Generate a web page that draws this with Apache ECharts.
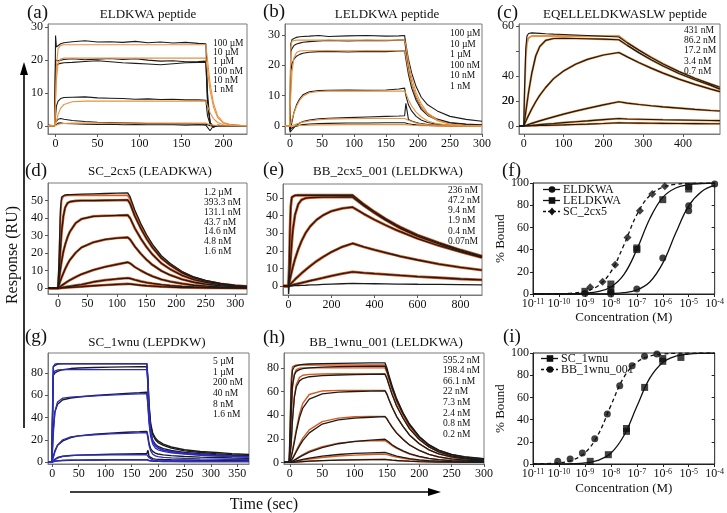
<!DOCTYPE html>
<html><head><meta charset="utf-8">
<script src="https://cdn.jsdelivr.net/npm/echarts@6/dist/echarts.min.js"></script>
<style>html,body{margin:0;padding:0;background:#fff}#c{width:727px;height:513px}</style>
</head><body><div id="c"></div>
<script>
// ---------- (a) ELDKWA peptide ----------
const tA = [-9, -1, 0, 1, 3, 6, 10, 20, 35, 50, 65, 80, 95, 110, 125, 140, 155, 170, 179, 181, 184, 188, 193, 200, 210, 228];
const a100uM = [0.2, 0, 27.5, 24, 24.5, 25, 25.3, 25.6, 25.9, 25.5, 25.6, 25.4, 25.7, 25.3, 25.5, 25.2, 25.4, 25.1, 25, 10, 1, -0.5, 0.2, 0, 0.2, 0];
const a10uM = [0.1, 0, 20, 19.5, 19.8, 20, 20.2, 20.4, 20.1, 20.3, 20.5, 20.2, 20.4, 20, 19.7, 19.8, 19.5, 19.6, 19.7, 8, 1, -0.3, 0.1, 0, 0.1, 0];
const a1uM = [0, 0.1, 18, 18.5, 18.8, 19, 19.2, 19.3, 19.6, 19.8, 19.5, 19.2, 19, 18.8, 18.6, 18.9, 19.2, 19.3, 19.4, 7, 0.8, -0.2, 0.1, 0, 0, 0.1];
const a100nM = [0, 0, 3, 6, 7.5, 8.3, 8.6, 8.7, 8.8, 8.5, 8.4, 8.3, 8.1, 8.2, 8, 8.1, 7.9, 7.9, 7.8, 3, 0.5, -0.2, 0, 0, 0.1, 0];
const a10nM = [0, 0, 1, 1.5, 2, 2.2, 2.0, 1.6, 1.3, 1.1, 1.0, 0.9, 0.8, 0.7, 0.7, 0.6, 0.6, 0.5, 0.5, 0.2, 0, -0.1, 0, 0, 0, 0];
const a1nM = [0, 0, 0.3, 0.6, 0.8, 0.9, 0.7, 0.6, 0.5, 0.4, 0.5, 0.3, 0.4, 0.3, 0.3, 0.3, 0.2, 0.3, 0.2, 0, -1.5, 0, 0, 0, 0, 0];
const aFit100uM = [0, 0, 0, 18, 23.5, 24.5, 24.7, 24.7, 24.7, 24.7, 24.7, 24.7, 24.7, 24.7, 24.7, 24.7, 24.7, 24.7, 24.7, 20, 13, 7, 3, 1, 0.2, 0];
const aFit10uM = [0, 0, 0, 14, 19, 20.3, 20.6, 20.6, 20.6, 20.6, 20.6, 20.6, 20.6, 20.6, 20.6, 20.6, 20.6, 20.6, 20.6, 16.7, 10.8, 5.8, 2.5, 0.8, 0.2, 0];
const aFit100nM = [0, 0, 0, 1.5, 3.5, 5.3, 6.5, 7.3, 7.5, 7.5, 7.5, 7.5, 7.5, 7.5, 7.5, 7.5, 7.5, 7.5, 7.5, 6, 4, 2.2, 1, 0.3, 0.1, 0];
const aFit10nM = [0, 0, 0, 0.2, 0.4, 0.6, 0.7, 0.8, 0.8, 0.8, 0.8, 0.8, 0.8, 0.8, 0.8, 0.8, 0.8, 0.8, 0.8, 0.65, 0.4, 0.2, 0.1, 0, 0, 0];
const aLabels = ['100 µM', '10 µM', '1 µM', '100 nM', '10 nM', '1 nM'];
const aXTicks = [0, 50, 100, 150, 200];
const aYTicks = [0, 10, 20, 30];

// ---------- (b) LELDKWA peptide ----------
const tB = [-8, -1, 0, 1, 3, 6, 10, 15, 20, 30, 45, 60, 90, 120, 150, 170, 179, 181, 185, 190, 197, 205, 215, 230, 250, 275, 300];
const b100uM = [0, 0, 5, 27, 28.5, 29, 29.2, 29.4, 29.5, 29.6, 29.8, 29.5, 29.7, 29.8, 29.6, 29.7, 29.8, 27, 22, 17.5, 13, 9.5, 7, 5, 3.2, 2.2, 1.6];
const b10uM = [0, 0, 3, 24.5, 25.5, 26.5, 27, 27.3, 27.6, 27.8, 28, 28.2, 28, 28.2, 28.1, 28.3, 28.3, 25, 19, 14, 9.5, 6.2, 4, 2.3, 1.2, 0.7, 0.4];
const b1uM = [0, 0, 1, 18, 20.5, 22, 23, 23.6, 24, 24.3, 24.5, 24.6, 24.4, 24.6, 24.5, 24.7, 24.8, 22, 17, 12.5, 8.5, 5.5, 3.5, 2, 1, 0.5, 0.3];
const b100nM = [0, 0, -1.5, -1, 1.5, 4.5, 7, 9, 10.3, 11.3, 11.7, 11.8, 11.9, 11.8, 11.9, 12.2, 12.5, 10, 7, 5, 3.2, 2, 1.2, 0.6, 0.3, 0.1, 0];
const b10nM = [0, 0, -2, -1.8, -1.2, -0.5, 0.3, 1.0, 1.5, 2.0, 2.4, 2.6, 2.8, 3.0, 3.2, 3.3, 3.4, 7.5, 2.2, 1.7, 1.2, 0.8, 0.5, 0.3, 0.1, 0, 0];
const b1nM = [0, 0, -1, -0.8, -0.5, -0.2, 0, 0.3, 0.5, 0.7, 0.8, 0.9, 1.0, 1.0, 1.1, 1.1, 1.1, 1.0, 0.8, 0.6, 0.4, 0.3, 0.2, 0.1, 0, 0, 0];
const bFit100uM = [0, 0, 0, 26, 28, 28.3, 28.3, 28.3, 28.3, 28.3, 28.3, 28.3, 28.3, 28.3, 28.3, 28.3, 28.3, 26.5, 21, 16, 11, 7.3, 4.3, 2, 0.7, 0.2, 0.1];
const bFit1uM = [0, 0, 0, 10, 18, 22.5, 24.2, 24.7, 24.8, 24.8, 24.8, 24.8, 24.8, 24.8, 24.8, 24.8, 24.8, 23.2, 18.4, 14, 9.7, 6.4, 3.8, 1.8, 0.6, 0.2, 0.1];
const bFit100nM = [0, 0, 0, 0.8, 2.3, 4.3, 6.5, 8.5, 9.8, 11, 11.4, 11.5, 11.5, 11.5, 11.5, 11.5, 11.5, 10.8, 8.7, 6.6, 4.6, 3, 1.7, 0.8, 0.3, 0.1, 0];
const bFit10nM = [0, 0, 0, 0.1, 0.2, 0.4, 0.7, 1.0, 1.3, 1.7, 2.1, 2.3, 2.4, 2.5, 2.5, 2.5, 2.5, 2.3, 1.9, 1.5, 1.0, 0.7, 0.4, 0.2, 0.1, 0, 0];
const bFit1nM = [0, 0, 0, 0, 0, 0.1, 0.1, 0.2, 0.2, 0.3, 0.4, 0.4, 0.5, 0.5, 0.5, 0.5, 0.5, 0.5, 0.4, 0.3, 0.2, 0.1, 0.1, 0, 0, 0, 0];
const bLabels = ['100 µM', '10 µM', '1 µM', '100 nM', '10 nM', '1 nM'];
const bXTicks = [0, 50, 100, 150, 200, 250, 300];
const bYTicks = [0, 10, 20, 30];

// ---------- (c) EQELLELDKWASLW peptide ----------
const tC = [-12, 0, 2, 5, 8, 12, 20, 30, 40, 55, 75, 100, 130, 160, 200, 239, 241, 260, 290, 320, 350, 390, 430, 470, 493];
const c431 = [0, 0, 30, 62, 72, 74, 74.5, 74.3, 74.1, 73.8, 73.5, 73.2, 72.8, 72.4, 71.8, 71.2, 70.8, 66.5, 60.5, 54.8, 49.6, 43.5, 38.2, 33.5, 31];
const c431Fit = [0, 0, 25, 55, 66, 70.5, 72, 72, 72, 72, 72, 72, 72, 72, 72, 72, 71.5, 67, 60.8, 55.2, 50, 43.8, 38.4, 33.7, 31.2];
const c86 = [0, 0, 4, 11, 18, 27, 42, 56, 63.5, 68.5, 70, 70.2, 70, 69.8, 69.5, 69, 68.5, 64.5, 58.5, 53, 48, 42, 37, 32.5, 29.5];
const c17 = [0, 0, 1.5, 3.7, 5.8, 8.5, 13.6, 19.4, 24.5, 30.8, 37.9, 44, 49.4, 53.3, 56.8, 58.8, 58.5, 55.3, 50.6, 46.3, 42.3, 37.5, 33.3, 29.5, 27.5];
const c3p4 = [0, 0, 0.2, 0.5, 0.8, 1.3, 2.1, 3.1, 4.1, 5.5, 7.3, 9.5, 11.9, 14.1, 16.9, 19.4, 19, 18.3, 17.2, 16.2, 15.3, 14.3, 13.3, 12.4, 12];
const c0p7 = [0, 0, 0, 0.1, 0.2, 0.3, 0.5, 0.8, 1.1, 1.5, 2, 2.7, 3.4, 4.1, 5.1, 6, 5.8, 5.6, 5.4, 5.2, 5, 4.8, 4.6, 4.4, 4.3];
const cLow = [0, 0, 0, 0, 0.1, 0.1, 0.2, 0.3, 0.4, 0.5, 0.7, 0.9, 1.2, 1.5, 2, 2.6, 2.5, 2.4, 2.3, 2.2, 2.1, 2, 1.9, 1.8, 1.8];
const cLabels = ['431 nM', '86.2 nM', '17.2 nM', '3.4 nM', '0.7 nM'];
const cXTicks = [0, 100, 200, 300, 400];
const cYTicks = [0, 20, 40, 60, 80];
const cYAxisLabels = [0, 20, 40];
const cTopTickValue = 80;
const cTopTickText = '60';
const cMidTickValue = 20;
const cMidTickText = '20';

// ---------- (d) SC_2cx5 (LEADKWA) ----------
const tD = [-17, 0, 2, 4, 6, 9, 12, 16, 20, 30, 40, 60, 80, 100, 118, 122, 130, 140, 150, 160, 175, 190, 210, 230, 250, 275, 300, 320];
const d1p2uM = [0, 0, 20, 45, 52, 53, 53.2, 53.3, 53.4, 53.5, 53.6, 53.8, 54, 54.2, 54.4, 52.2, 44.6, 37, 30.5, 25, 18.5, 14.1, 9.5, 6.4, 4.4, 2.7, 1.6, 1.1];
const d1p2uMFit = [0, 0, 15, 40, 50, 52.5, 52.9, 52.9, 52.9, 52.9, 52.9, 52.9, 52.9, 52.9, 52.9, 50.8, 43.4, 36, 29.6, 24.3, 18, 13.8, 9.3, 6.2, 4.2, 2.6, 1.6, 1.1];
const d393 = [0, 0, 8, 22, 32, 41, 46, 48.5, 49.3, 49.8, 50, 50, 50.1, 50.2, 50.3, 48.3, 41.2, 34.2, 28.2, 23.1, 17.1, 13.1, 8.8, 5.9, 4, 2.5, 1.5, 1.1];
const d131 = [0, 0, 5.9, 10.8, 15.3, 20.9, 24.8, 29, 32.2, 37.2, 39.5, 41, 41.3, 41.5, 41.7, 40, 34.2, 28.4, 23.4, 19.2, 14.2, 10.8, 7.3, 4.9, 3.3, 2, 1.3, 0.9];
const d43 = [0, 0, 2.2, 4.3, 6.1, 8.6, 11, 13.7, 16.1, 20.3, 23.3, 26.2, 27.8, 28.6, 29, 27.8, 23.8, 19.7, 16.2, 13.3, 9.9, 7.5, 5.1, 3.4, 2.3, 1.4, 0.9, 0.6];
const d14 = [0, 0, 0.5, 1, 1.5, 2.2, 2.9, 3.8, 4.6, 6.4, 8, 10.4, 12.2, 13.6, 14.8, 14.2, 12.1, 10.1, 8.3, 6.8, 5, 3.8, 2.6, 1.7, 1.2, 0.7, 0.4, 0.3];
const d4p8 = [0, 0, 0.1, 0.2, 0.3, 0.5, 0.7, 0.9, 1.1, 1.6, 2.1, 3.6, 4.6, 5.3, 5.8, 5.6, 4.8, 3.9, 3.2, 2.7, 2, 1.5, 1, 0.7, 0.5, 0.3, 0.2, 0.1];
const d1p6 = [0, 0, 0, 0.1, 0.1, 0.2, 0.3, 0.4, 0.5, 0.7, 0.9, 1.4, 1.8, 2.2, 2.5, 2.4, 2.1, 1.7, 1.4, 1.2, 0.9, 0.7, 0.4, 0.3, 0.2, 0.1, 0.1, 0];
const dLabels = ['1.2 µM', '393.3 nM', '131.1 nM', '43.7 nM', '14.6 nM', '4.8 nM', '1.6 nM'];
const dXTicks = [0, 50, 100, 150, 200, 250, 300];
const dYTicks = [0, 10, 20, 30, 40, 50];

// ---------- (e) BB_2cx5_001 (LELDKWA) ----------
const tE = [-26, -1, 0, 3, 6, 10, 15, 20, 30, 45, 60, 80, 100, 130, 160, 200, 250, 298, 302, 350, 400, 450, 500, 520, 600, 700, 800, 900];
const e236 = [0, 0, 0, 12, 30, 45, 50.5, 51.3, 51.5, 51.6, 51.6, 51.6, 51.6, 51.6, 51.6, 51.6, 51.6, 51.6, 51.5, 46.5, 42.2, 38.3, 34.8, 33.5, 29, 24.5, 20.5, 17];
const e47 = [0, 0, 0, 4, 9, 16, 25, 32, 40.5, 46.5, 49, 50, 50.3, 50.4, 50.5, 50.5, 50.6, 50.6, 50.4, 45.7, 41.5, 37.6, 34.1, 32.8, 28.4, 23.9, 20, 16.5];
const e9p4 = [0, 0, 0, 1.8, 3.6, 5.8, 8.5, 10.9, 15.4, 20.9, 25.5, 30.3, 33.8, 37.6, 40.2, 42.6, 44.1, 44.8, 44.6, 41, 37.7, 34.7, 31.9, 30.9, 27, 22.9, 19.4, 16.2];
const e1p9 = [0, 0, 0, 0.4, 0.8, 1.3, 1.9, 2.5, 3.8, 5.5, 7.2, 9.3, 11.3, 14.1, 16.5, 19.4, 22.3, 24.2, 24, 22.2, 20.5, 19, 17.5, 16.9, 14.8, 12.5, 10.6, 9];
const e0p4 = [0, 0, 0, 0.1, 0.2, 0.3, 0.45, 0.6, 0.9, 1.35, 1.8, 2.4, 3, 3.8, 4.6, 5.8, 7, 8.1, 8, 7.5, 7, 6.6, 6.2, 6, 5.4, 4.7, 4, 3.5];
const e0p07 = [0, 0, -4.5, 0, 0, 0.1, 0.1, 0.1, 0.2, 0.3, 0.35, 0.45, 0.6, 0.7, 0.9, 1.1, 1.3, 1.5, 1.5, 1.4, 1.3, 1.2, 1.1, 1.1, 1, 0.9, 0.8, 0.7];
const eLabels = ['236 nM', '47.2 nM', '9.4 nM', '1.9 nM', '0.4 nM', '0.07nM'];
const eXTicks = [0, 200, 400, 600, 800];
const eYTicks = [0, 10, 20, 30, 40, 50];

// ---------- (f) dose response ----------
const fitConc = [1e-11, 1e-10, 3.16e-10, 1e-9, 3.16e-9, 1e-8, 3.16e-8, 1e-7, 3.16e-7, 1e-6, 3.16e-6, 1e-5, 3.16e-5, 1e-4];
const fConcELDKWA = [1e-9, 1e-8, 1e-8, 1e-7, 1e-6, 1e-5, 1e-5, 1e-4];
const fBoundELDKWA = [0.5, 0, 2, 4.5, 32.4, 75, 79.5, 99];
const fConcLELDKWA = [1e-9, 1e-8, 1e-8, 1e-7, 1e-7, 1e-6, 1e-5, 1e-5];
const fBoundLELDKWA = [2.4, 4, 9, 40, 41.5, 85, 94.6, 97];
const fConcSC2cx5 = [1.6e-9, 4.8e-9, 1.46e-8, 4.37e-8, 1.31e-7, 3.93e-7, 1.2e-6];
const fBoundSC2cx5 = [6, 11, 26.4, 51, 75, 90, 97];
const fFitELDKWA = [0, 0, 0, 0.04, 0.12, 0.4, 1.2, 3.7, 10.8, 27.8, 54.9, 79.4, 92.4, 97.8];
const fFitLELDKWA = [0, 0.07, 0.2, 0.7, 2.1, 6.3, 17.4, 40, 67.8, 87, 95.5, 98.5, 99.5, 99.9];
const fFitSC2cx5 = [0.03, 0.25, 0.8, 2.4, 7.3, 20, 44, 71.4, 88.8, 96.2, 98.8, 99.6, 99.9, 100];
const fLegend = ['ELDKWA', 'LELDKWA', 'SC_2cx5'];

// ---------- (g) SC_1wnu (LEPDKW) ----------
const tG = [-8, -1, 0, 2, 5, 10, 20, 35, 50, 80, 110, 140, 165, 179, 181, 183, 186, 190, 195, 200, 210, 225, 250, 280, 310, 340, 372];
const g5uM = [0, 0, 30, 86, 87.5, 88, 88.2, 88.3, 88.3, 88.3, 88.4, 88.4, 88.4, 88.4, 75, 52, 35, 26, 21.5, 19, 16, 13.5, 11, 9.5, 8.5, 7.5, 6.8];
const g5uMFit = [0, 0, 20, 85, 88, 88.5, 88.5, 88.5, 88.5, 88.5, 88.5, 88.5, 88.5, 88.5, 70, 45, 28, 19, 15, 13, 11, 9.5, 8, 6.8, 6, 5.4, 4.9];
const g1uM = [0, 0, 25, 78, 80, 81.5, 83, 84, 84.5, 85, 85.3, 85.5, 85.6, 85.6, 72, 50, 33, 24.5, 20, 17.5, 15, 12.5, 10, 8.5, 7.5, 6.6, 6];
const g1uMFit = [0, 0, 18, 78, 82, 82.7, 83, 83, 83, 83, 83, 83, 83, 83, 68, 43, 27, 18.5, 14.5, 12.5, 10.5, 9, 7.6, 6.5, 5.7, 5.1, 4.6];
const g200 = [0, 0, 5, 30, 45, 52, 56, 57.5, 58.5, 59.8, 60.8, 61.7, 62.3, 62.8, 52, 38, 26, 19.5, 16, 14, 12, 10.3, 8.6, 7.4, 6.6, 6, 5.5];
const g200Fit = [0, 0, 0, 25, 45, 54, 57.5, 58.3, 58.8, 59.5, 60.2, 60.8, 61.3, 61.5, 50, 35, 23, 16, 12.5, 11, 9.5, 8.3, 7, 6, 5.3, 4.8, 4.3];
const g40 = [0, 0, 0, 5, 10, 15, 19, 22, 23.5, 25, 26, 26.7, 27.2, 27.5, 23, 17, 12, 9.5, 8, 7.2, 6.4, 5.7, 5, 4.4, 4, 3.6, 3.3];
const g40Fit = [0, 0, 0, 4, 9, 15, 20, 22.5, 23.5, 24.5, 25.2, 25.8, 26.2, 26.5, 21, 15, 10, 7, 5.5, 4.8, 4.2, 3.7, 3.2, 2.8, 2.5, 2.2, 2];
const g8 = [0, 0, 0, 1, 2.5, 4, 5.2, 5.8, 6.2, 6.6, 7, 7.3, 7.5, 7.6, 10.5, 5, 3.5, 3, 2.6, 2.4, 2.2, 2, 1.8, 1.6, 1.5, 1.4, 1.3];
const g8Fit = [0, 0, 0, 0.8, 2, 3.5, 5, 5.8, 6.1, 6.3, 6.4, 6.5, 6.5, 6.5, 5.2, 3.8, 2.6, 1.9, 1.5, 1.3, 1.1, 1, 0.9, 0.8, 0.7, 0.6, 0.5];
const g1p6 = [0, 0, 0, 0.3, 0.7, 1, 1.4, 1.6, 1.7, 1.8, 1.9, 2, 2, 2.1, 1.7, 1.3, 1, 0.8, 0.7, 0.6, 0.5, 0.5, 0.4, 0.4, 0.3, 0.3, 0.3];
const gLabels = ['5 µM', '1 µM', '200 nM', '40 nM', '8 nM', '1.6 nM'];
const gXTicks = [0, 50, 100, 150, 200, 250, 300, 350];
const gYTicks = [0, 20, 40, 60, 80];

// ---------- (h) BB_1wnu_001 (LELDKWA) ----------
const tH = [-9, -1, 0, 2, 4, 7, 10, 15, 20, 30, 50, 75, 100, 125, 147, 150, 153, 158, 165, 175, 185, 200, 215, 230, 250, 270, 300];
const h595 = [0, 0, 0, 60, 78, 81, 82, 82.5, 83, 83.3, 83.6, 83.8, 84, 84.2, 84.3, 80, 74, 65, 54, 42, 32.5, 22, 15, 10.5, 6.8, 4.8, 3.2];
const h595Fit = [0, 0, 0, 70, 81, 82.4, 82.5, 82.5, 82.5, 82.5, 82.5, 82.5, 82.5, 82.5, 82.5, 78, 72.6, 63.5, 52.8, 41.3, 31.4, 21.5, 14.4, 9.8, 5.8, 3.5, 1.6];
const h198 = [0, 0, 0, 40, 65, 74, 77, 78.5, 79.3, 80, 80.6, 81, 81.2, 81.4, 81.5, 77.5, 72, 63, 52.5, 41, 31.5, 21.5, 14.6, 10.2, 6.5, 4.5, 3];
const h198Fit = [0, 0, 0, 35, 62, 75, 78.5, 79.8, 80, 80, 80, 80, 80, 80, 80, 76, 70.4, 61.6, 51.2, 40, 30.4, 20.8, 14, 9.5, 5.6, 3.4, 1.5];
const h66 = [0, 0, 0, 15, 35, 55, 64, 69, 71, 72.5, 73.5, 74, 74.3, 74.5, 74.7, 71, 66, 57.5, 47.8, 37.4, 28.4, 19.4, 13.1, 8.9, 5.6, 3.6, 2.3];
const h66Fit = [0, 0, 0, 15, 35, 56, 66, 72, 73.8, 74.5, 74.8, 75, 75, 75, 75, 71.3, 66, 57.8, 48, 37.5, 28.5, 19.5, 13.1, 8.9, 5.3, 3.2, 1.4];
const h22 = [0, 0, 0, 4, 9, 17, 26, 38, 46, 53.5, 58, 59.5, 60, 60.3, 60.6, 57.6, 53.3, 46.7, 38.8, 30.3, 23, 15.8, 10.6, 7.2, 4.6, 3, 1.9];
const h22Fit = [0, 0, 0, 5, 10, 19, 28, 41, 50, 57.5, 60.5, 61, 61, 61, 61, 58, 53.7, 47, 39, 30.5, 23.2, 15.9, 10.7, 7.3, 4.3, 2.6, 1.2];
const h7p3 = [0, 0, 0, 1.5, 3, 6, 9, 14, 18.5, 25, 32.5, 36, 37.5, 38.2, 38.7, 36.8, 34, 29.8, 24.8, 19.4, 14.7, 10.1, 6.8, 4.6, 3, 2, 1.2];
const h7p3Fit = [0, 0, 0, 1.7, 3.4, 6.5, 10, 15.5, 20.5, 27.5, 34.5, 37.5, 38.6, 39, 39, 37, 34.3, 30, 25, 19.5, 14.8, 10.1, 6.8, 4.6, 2.7, 1.6, 0.7];
const h2p4 = [0, 0, 0, 0.5, 1, 1.8, 2.8, 4.5, 6, 8.7, 12.5, 15.8, 17.8, 18.9, 19.6, 18.6, 17.2, 15, 12.5, 9.8, 7.4, 5.1, 3.4, 2.3, 1.5, 1, 0.6];
const h2p4Fit = [0, 0, 0, 0.6, 1.2, 2.2, 3.2, 5, 6.6, 9.5, 13.3, 16.2, 17.6, 18.2, 18.5, 17.6, 16.3, 14.2, 11.8, 9.3, 7, 4.8, 3.2, 2.2, 1.3, 0.8, 0.4];
const h0p8 = [0, 0, 0, 0.2, 0.4, 0.8, 1.2, 1.9, 2.6, 3.7, 5.3, 6.7, 7.6, 8.1, 8.4, 8, 7.4, 6.5, 5.4, 4.2, 3.2, 2.2, 1.5, 1, 0.6, 0.4, 0.3];
const h0p8Fit = [0, 0, 0, 0.2, 0.4, 0.7, 1, 1.5, 2, 2.9, 4.2, 5.4, 6.2, 6.7, 7, 6.7, 6.2, 5.4, 4.5, 3.5, 2.7, 1.8, 1.2, 0.8, 0.5, 0.3, 0.1];
const h0p2 = [0, 0, 0, 0.1, 0.1, 0.2, 0.3, 0.5, 0.7, 1, 1.5, 1.9, 2.2, 2.4, 2.5, 2.4, 2.2, 1.9, 1.6, 1.3, 1, 0.7, 0.5, 0.3, 0.2, 0.1, 0.1];
const hLabels = ['595.2 nM', '198.4 nM', '66.1 nM', '22 nM', '7.3 nM', '2.4 nM', '0.8 nM', '0.2 nM'];
const hXTicks = [0, 50, 100, 150, 200, 250, 300];
const hYTicks = [0, 20, 40, 60, 80];

// ---------- (i) dose response ----------
const iConcSC1wnu = [1.6e-9, 8e-9, 4e-8, 4e-8, 2e-7, 1e-6, 1e-6, 5e-6];
const iBoundSC1wnu = [2.4, 8.4, 29.4, 32, 69, 95, 92.5, 96];
const iConcBB1wnu = [9e-11, 2.7e-10, 8e-10, 2.4e-9, 7.3e-9, 2.2e-8, 6.6e-8, 1.98e-7, 5.95e-7];
const iBoundBB1wnu = [2.4, 4.5, 9.9, 22.8, 45, 70.6, 88.6, 97, 99];
const iFitSC1wnu = [0, 0.1, 0.3, 1, 3.3, 9.7, 25.4, 51.8, 77.3, 91.5, 97.1, 99, 99.7, 99.9];
const iFitBB1wnu = [0.1, 1.1, 3.4, 10, 26, 52.6, 78, 91.7, 97.2, 99.1, 99.7, 99.9, 100, 100];
const iLegend = ['SC_1wnu', 'BB_1wnu_001'];

// ================= build =================
const FONT = '"Liberation Serif", "DejaVu Serif", serif';
const BLACK = '#1b1b1b';
const OR1 = '#e8913f';
const OR2 = '#d9581e';
const BLUE = '#2b2bc4';

const grids = [
  {left: 48, top: 24, width: 199, height: 110},
  {left: 285, top: 24, width: 197, height: 110},
  {left: 519, top: 24, width: 201, height: 110},
  {left: 48, top: 183, width: 199, height: 111},
  {left: 283, top: 184, width: 199, height: 111},
  {left: 533, top: 183, width: 185, height: 111},
  {left: 48, top: 353, width: 201, height: 111},
  {left: 284, top: 353, width: 200, height: 111},
  {left: 533, top: 353, width: 185, height: 111}
].map((g, i) => Object.assign({show: true, borderColor: (i === 5 || i === 8) ? '#222' : '#7a7a7a', borderWidth: 1, containLabel: false}, g));

const labelStyle = {fontFamily: FONT, fontSize: 12, color: '#111'};

function sx(gi, min, max, ticks) {
  return {type: 'value', gridIndex: gi, min, max,
    axisLine: {show: true, onZero: false, lineStyle: {color: '#7a7a7a'}},
    axisTick: {show: true, customValues: ticks, length: 3, lineStyle: {color: '#555'}},
    axisLabel: Object.assign({customValues: ticks, margin: 4}, labelStyle),
    splitLine: {show: false}};
}
function sy(gi, min, max, ticks, labelVals) {
  const lab = Object.assign({customValues: labelVals || ticks, margin: 5}, labelStyle);
  return {type: 'value', gridIndex: gi, min, max,
    axisLine: {show: true, onZero: false, lineStyle: {color: '#7a7a7a'}},
    axisTick: {show: true, customValues: ticks, length: 3, lineStyle: {color: '#555'}},
    axisLabel: lab, splitLine: {show: false}};
}
function logX(gi, nameGap) {
  return {type: 'log', logBase: 10, gridIndex: gi, min: 1e-11, max: 1e-4, interval: 1, splitNumber: 7,
    name: 'Concentration (M)', nameLocation: 'middle', nameGap: nameGap,
    nameTextStyle: {fontFamily: FONT, fontSize: 13, color: '#111'},
    axisLine: {show: true, onZero: false, lineStyle: {color: '#222'}},
    axisTick: {show: true, length: 3, lineStyle: {color: '#222'}},
    minorTick: {show: false},
    axisLabel: {margin: 4, showMinLabel: true, showMaxLabel: true,
      formatter: v => '{b|10}{s|' + Math.round(Math.log10(v)) + '}',
      rich: {b: {fontFamily: FONT, fontSize: 12, color: '#111', verticalAlign: 'bottom'},
             s: {fontFamily: FONT, fontSize: 8, color: '#111', verticalAlign: 'top'}}},
    splitLine: {show: false}};
}
function boundY(gi) {
  return {type: 'value', gridIndex: gi, min: 0, max: 100, interval: 20,
    name: '% Bound', nameLocation: 'middle', nameGap: 24, nameRotate: 90,
    nameTextStyle: {fontFamily: FONT, fontSize: 13, color: '#111'},
    axisLine: {show: true, onZero: false, lineStyle: {color: '#222'}},
    axisTick: {show: true, length: 3, lineStyle: {color: '#222'}},
    axisLabel: Object.assign({margin: 4}, labelStyle), splitLine: {show: false}};
}
function mirrorY(gi) {
  return {type: 'value', gridIndex: gi, position: 'right', min: 0, max: 100, interval: 20,
    axisLine: {show: false}, axisTick: {show: true, inside: true, length: 3, lineStyle: {color: '#222'}},
    axisLabel: {show: false}, splitLine: {show: false}};
}

const xAxis = [
  sx(0, -9, 228, aXTicks), sx(1, -8, 300, bXTicks), sx(2, -12, 493, cXTicks),
  sx(3, -17, 320, dXTicks), sx(4, -26, 900, eXTicks), logX(5, 16),
  sx(6, -8, 372, gXTicks), sx(7, -9, 300, hXTicks), logX(8, 18)
];
const yAxis = [
  sy(0, -2.5, 31, aYTicks), sy(1, -2.6, 33.6, bYTicks),
  sy(2, -6.4, 81.6, cYTicks, cYAxisLabels),
  sy(3, -3.3, 60, dYTicks), sy(4, -5.1, 58, eYTicks), boundY(5),
  sy(6, -1.8, 98, gYTicks), sy(7, -1.35, 92.6, hYTicks), boundY(8),
  mirrorY(5), mirrorY(8)
];

function L(gi, t, v, color, width, z, extra) {
  return Object.assign({type: 'line', xAxisIndex: gi, yAxisIndex: gi, data: t.map((x, i) => [x, v[i]]),
    symbol: 'none', showSymbol: false, silent: true, animation: false, z: z,
    lineStyle: {color: color, width: width}}, extra || {});
}
function S(gi, xs, ys, symbol, size) {
  return {type: 'scatter', xAxisIndex: gi, yAxisIndex: gi, data: xs.map((x, i) => [x, ys[i]]),
    symbol: symbol, symbolSize: size, itemStyle: {color: '#111'}, silent: true, animation: false, z: 5};
}

const series = [];
[a100uM, a10uM, a1uM, a100nM, a10nM, a1nM].forEach(v => series.push(L(0, tA, v, BLACK, 1.1, 2)));
[aFit100uM, aFit10uM, aFit100nM, aFit10nM].forEach(v => series.push(L(0, tA, v, OR1, 1.1, 3)));
[b100uM, b10uM, b1uM, b100nM, b10nM, b1nM].forEach(v => series.push(L(1, tB, v, BLACK, 1.1, 2)));
[bFit100uM, bFit1uM, bFit100nM, bFit10nM, bFit1nM].forEach(v => series.push(L(1, tB, v, OR1, 1.1, 3)));
series.push(L(2, tC, c431Fit, OR1, 1.8, 2));
[c86, c17, c3p4, c0p7, cLow].forEach(v => series.push(L(2, tC, v, OR1, 2.2, 2)));
[c431, c86, c17, c3p4, c0p7, cLow].forEach(v => series.push(L(2, tC, v, BLACK, 1.2, 3)));
series.push(L(3, tD, d1p2uMFit, OR2, 1.8, 2));
[d393, d131, d43, d14, d4p8, d1p6].forEach(v => series.push(L(3, tD, v, OR2, 2.6, 2)));
[d1p2uM, d393, d131, d43, d14, d4p8, d1p6].forEach(v => series.push(L(3, tD, v, BLACK, 1.3, 3)));
[e236, e47, e9p4, e1p9, e0p4].forEach(v => series.push(L(4, tE, v, OR2, 2.8, 2)));
[e236, e47, e9p4, e1p9, e0p4, e0p07].forEach(v => series.push(L(4, tE, v, BLACK, 1.3, 3)));
series.push(L(5, fitConc, fFitELDKWA, '#111', 1.3, 3, {smooth: 0.4}));
series.push(L(5, fitConc, fFitLELDKWA, '#111', 1.3, 3, {smooth: 0.4}));
series.push(L(5, fitConc, fFitSC2cx5, '#111', 1.3, 3, {smooth: 0.4, lineStyle: {color: '#111', width: 1.3, type: [4, 3]}}));
series.push(S(5, fConcELDKWA, fBoundELDKWA, 'circle', 7));
series.push(S(5, fConcLELDKWA, fBoundLELDKWA, 'rect', 7));
series.push(S(5, fConcSC2cx5, fBoundSC2cx5, 'diamond', 8));
[g5uM, g1uM, g200, g40, g8, g1p6].forEach(v => series.push(L(6, tG, v, BLACK, 1.4, 2)));
[g5uMFit, g1uMFit, g200Fit, g40Fit, g8Fit, g1p6].forEach(v => series.push(L(6, tG, v, BLUE, 1.3, 3)));
[h595Fit, h198Fit, h66Fit, h22Fit, h7p3Fit, h2p4Fit, h0p8Fit, h0p2].forEach(v => series.push(L(7, tH, v, OR2, 1.4, 2)));
[h595, h198, h66, h22, h7p3, h2p4, h0p8, h0p2].forEach(v => series.push(L(7, tH, v, BLACK, 1.3, 3)));
series.push(L(8, fitConc, iFitSC1wnu, '#111', 1.3, 3, {smooth: 0.4}));
series.push(L(8, fitConc, iFitBB1wnu, '#111', 1.3, 3, {smooth: 0.4, lineStyle: {color: '#111', width: 1.3, type: [4, 3]}}));
series.push(S(8, iConcSC1wnu, iBoundSC1wnu, 'rect', 7));
series.push(S(8, iConcBB1wnu, iBoundBB1wnu, 'circle', 7));

const graphic = [];
function T(x, y, s, size, align, rot) {
  const g = {type: 'text', x: x, y: y, silent: true, z: 100,
    style: {text: s, font: size + 'px ' + FONT, fill: '#111', textAlign: align || 'left', textVerticalAlign: 'middle'}};
  if (rot) g.rotation = rot;
  graphic.push(g);
}
[['(a)', 27, 13], ['(b)', 263, 12], ['(c)', 497, 13], ['(d)', 25, 171], ['(e)', 263, 170],
 ['(f)', 502, 171], ['(g)', 25, 337], ['(h)', 263, 338], ['(i)', 503, 337]].forEach(p => T(p[1], p[2], p[0], 19, 'left'));
[['ELDKWA peptide', 148, 15], ['LELDKWA peptide', 387, 15], ['EQELLELDKWASLW peptide', 625, 15],
 ['SC_2cx5 (LEADKWA)', 150, 172], ['BB_2cx5_001 (LELDKWA)', 388, 172],
 ['SC_1wnu (LEPDKW)', 147, 343], ['BB_1wnu_001 (LELDKWA)', 386, 343]].forEach(p => T(p[1], p[2], p[0], 13, 'center'));
function conc(list, x, y0, dy) { list.forEach((s, i) => T(x, y0 + i * dy, s, 9.5, 'left')); }
conc(aLabels, 213, 43.5, 9.2);
conc(bLabels, 450, 33.5, 10.6);
conc(cLabels, 684, 30, 10.4);
conc(dLabels, 204, 192.7, 9.8);
conc(eLabels, 448, 190, 10.3);
conc(gLabels, 213, 361.7, 10.6);
conc(hLabels, 443, 360, 10.6);

function legendItem(x0, y, name, sym, dashed) {
  graphic.push({type: 'line', silent: true, shape: {x1: x0, y1: y, x2: x0 + 17, y2: y},
    style: {stroke: '#111', lineWidth: 1.3, lineDash: dashed ? [3, 2] : null}});
  const cx = x0 + 9;
  if (sym === 'circle') graphic.push({type: 'circle', silent: true, shape: {cx: cx, cy: y, r: 3.3}, style: {fill: '#111'}});
  if (sym === 'rect') graphic.push({type: 'rect', silent: true, shape: {x: cx - 3.3, y: y - 3.3, width: 6.6, height: 6.6}, style: {fill: '#111'}});
  if (sym === 'diamond') graphic.push({type: 'polygon', silent: true, shape: {points: [[cx, y - 4], [cx + 3.3, y], [cx, y + 4], [cx - 3.3, y]]}, style: {fill: '#111'}});
  T(x0 + 20, y, name, 12, 'left');
}
legendItem(543, 189.5, fLegend[0], 'circle', false);
legendItem(543, 200.5, fLegend[1], 'rect', false);
legendItem(543, 211.5, fLegend[2], 'diamond', true);
legendItem(541, 358.5, iLegend[0], 'rect', false);
legendItem(541, 369.5, iLegend[1], 'circle', true);

graphic.push({type: 'line', silent: true, shape: {x1: 24, y1: 428, x2: 24, y2: 72}, style: {stroke: '#000', lineWidth: 1.6}});
graphic.push({type: 'polygon', silent: true, shape: {points: [[24, 62], [20, 75], [28, 75]]}, style: {fill: '#000'}});
graphic.push({type: 'line', silent: true, shape: {x1: 70, y1: 492, x2: 430, y2: 492}, style: {stroke: '#000', lineWidth: 1.6}});
graphic.push({type: 'polygon', silent: true, shape: {points: [[441, 492], [428, 488], [428, 496]]}, style: {fill: '#000'}});
T(13, 255, 'Response (RU)', 16, 'center', Math.PI / 2);
T(264, 505, 'Time (sec)', 16, 'center');

const chart = echarts.init(document.getElementById('c'), null, {renderer: 'canvas'});
chart.setOption({animation: false, backgroundColor: '#fff', grid: grids, xAxis: xAxis, yAxis: yAxis, series: series});

// top tick of (c) carries the label "60" in the original figure; place it through the axis scale
T(grids[2].left - 5, chart.convertToPixel({yAxisIndex: 2}, cTopTickValue), cTopTickText, 12, 'right');
// extra copy of the "20" label as rich text, in case the axis label is dropped
graphic.push({type: 'text', silent: true, z: 120, zlevel: 1,
  x: grids[2].left - 5, y: chart.convertToPixel({yAxisIndex: 2}, cMidTickValue),
  style: {text: '{n|' + cMidTickText + '}', textAlign: 'right', textVerticalAlign: 'middle',
    rich: {n: {fontFamily: FONT, fontSize: 12, fill: '#111', color: '#111'}}}});
chart.setOption({graphic: {elements: graphic}});
</script></body></html>
